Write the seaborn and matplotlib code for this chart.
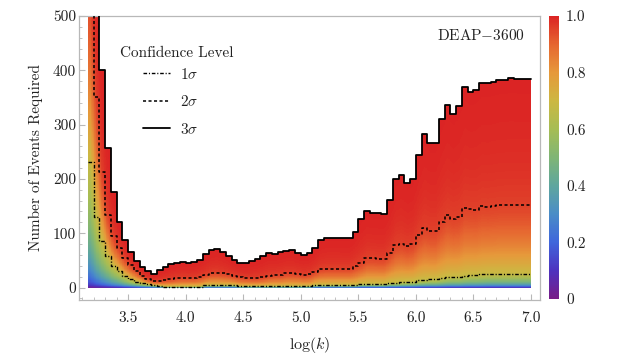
import math
import numpy as np
import pandas as pd
import matplotlib
matplotlib.use("Agg")
import matplotlib.pyplot as plt
import seaborn as sns
from matplotlib.colors import LinearSegmentedColormap
from matplotlib.ticker import MultipleLocator

# ---------------- data ----------------
# histogram bins in log(k): 77 bins of width 0.05 from 3.15 to 7.00
log_k_edges = np.round(np.linspace(3.15, 7.00, 78), 3)

n_3sigma = [700, 620, 400, 257, 175, 121, 88, 66, 48, 37, 30, 24, 32, 37, 43, 46,
            47, 46, 47, 51, 61, 69, 71, 66, 58, 51, 45, 45, 48, 52, 58, 63,
            62, 65, 68, 69, 63, 60, 63, 73, 87, 92, 92, 92, 91, 91, 103, 127,
            141, 137, 137, 136, 162, 199, 207, 193, 200, 244, 283, 267, 267, 310,
            337, 320, 335, 369, 360, 364, 377, 376, 379, 382, 383, 385, 384, 384, 384]

n_2sigma = [560, 351, 213, 134, 94, 72, 54, 41, 31, 22, 16, 12, 12, 14, 15, 17,
            18, 18, 18, 20, 23, 27, 27, 26, 24, 21, 19, 18, 17, 17, 19, 22,
            23, 23, 26, 26, 25, 23, 24, 29, 34, 35, 35, 35, 35, 35, 40, 45,
            54, 54, 53, 53, 63, 78, 81, 76, 80, 97, 109, 104, 104, 121,
            134, 127, 130, 146, 144, 143, 150, 149, 150, 152, 152, 152, 152, 152, 152]

n_1sigma = [232, 130, 85, 58, 40, 30, 21, 15, 11, 8, 6, 4, 3,
            1.5, 1.5, 1.5, 1.5, 1.5, 1.5, 1.5,
            4, 4, 4, 4, 4, 4,
            2, 2, 2, 2, 2, 2, 2, 2, 2, 2, 2, 2, 2,
            4.5, 4.5, 4.5, 4.5, 4.5, 4.5, 4.5, 4.5,
            7, 7, 7, 7, 7,
            9, 9, 10, 11, 11, 13, 14, 15, 15, 17, 19, 20, 20, 22, 23, 23, 24,
            25, 25, 25, 25, 25, 25, 25, 25]

level_names = [r"$1\sigma$", r"$2\sigma$", r"$3\sigma$"]

x_ticks = [3.5, 4.0, 4.5, 5.0, 5.5, 6.0, 6.5, 7.0]
y_ticks = [0, 100, 200, 300, 400, 500]
cbar_ticks = [0, 0.2, 0.4, 0.6, 0.8, 1.0]
cbar_labels = ["0", "0.2", "0.4", "0.6", "0.8", "1.0"]

# ---------------- style ----------------
sns.set_theme(style="white")
plt.rcParams["font.family"] = ["cmr10", "DejaVu Serif"]
plt.rcParams["mathtext.fontset"] = "cm"
plt.rcParams["axes.unicode_minus"] = False
plt.rcParams["axes.formatter.use_mathtext"] = True

FS = 11
TXT = "#222222"
FRAME = "#b8b8b8"

rainbow = LinearSegmentedColormap.from_list("mma_rainbow", [
    (0.00, (0.47, 0.11, 0.53)),
    (0.10, (0.30, 0.20, 0.75)),
    (0.20, (0.25, 0.40, 0.86)),
    (0.30, (0.29, 0.55, 0.78)),
    (0.40, (0.37, 0.65, 0.62)),
    (0.50, (0.50, 0.71, 0.46)),
    (0.60, (0.65, 0.74, 0.33)),
    (0.70, (0.80, 0.72, 0.26)),
    (0.80, (0.90, 0.60, 0.23)),
    (0.90, (0.90, 0.40, 0.19)),
    (1.00, (0.86, 0.14, 0.14)),
])

fig = plt.figure(figsize=(6.23, 3.56), dpi=100)
ax = fig.add_axes([79 / 623, 1 - 300 / 356, 461 / 623, 284 / 356])
cax = fig.add_axes([549 / 623, 1 - 299 / 356, 10 / 623, 283 / 356])

# ---------------- colour field (confidence level between the read contours) ----------------
edges = log_k_edges
centers = (edges[:-1] + edges[1:]) / 2
sub = 8
xf_edges = np.linspace(edges[0], edges[-1], (len(edges) - 1) * sub + 1)
xf_c = (xf_edges[:-1] + xf_edges[1:]) / 2
bin_idx = np.clip(((xf_c - edges[0]) / 0.05).astype(int), 0, len(centers) - 1)


def interp_log(v):
    return np.exp(np.interp(xf_c, centers, np.log(np.asarray(v, float))))


N1 = interp_log(n_1sigma)[None, :]
N2 = interp_log(n_2sigma)[None, :]
N3 = interp_log(n_3sigma)[None, :]
ny_edges = np.arange(0, 501, 1.0)
Ng = ((ny_edges[:-1] + ny_edges[1:]) / 2)[:, None]
sig = np.where(Ng <= N1, np.sqrt(Ng / N1),
               np.where(Ng <= N2, 1 + (Ng - N1) / (N2 - N1),
                        2 + (Ng - N2) / (N3 - N2)))
sig = np.clip(sig, 0, 4)
erf = np.vectorize(math.erf)
p = erf(sig / math.sqrt(2))
mask = Ng > np.asarray(n_3sigma, float)[bin_idx][None, :]
field = np.ma.masked_array(p, mask)

mesh = ax.pcolormesh(xf_edges, ny_edges, field, cmap=rainbow, vmin=0, vmax=1,
                     shading="flat", rasterized=True, zorder=1)

# ---------------- step contours ----------------
styles = [
    dict(ls=(0, (2.6, 1.3, 0.8, 1.3)), lw=1.0),
    dict(ls=(0, (2.0, 1.6)), lw=1.1),
    dict(ls="-", lw=1.3),
]
for name, vals, st in zip(level_names, [n_1sigma, n_2sigma, n_3sigma], styles):
    df = pd.DataFrame({"log_k": edges, "N": list(vals) + [vals[-1]]})
    sns.lineplot(data=df, x="log_k", y="N", drawstyle="steps-post", color="black",
                 linestyle=st["ls"], linewidth=st["lw"], label=name, ax=ax,
                 zorder=3, sort=False)

# ---------------- axes ----------------
ax.set_xlim(3.074, 7.078)
ax.set_ylim(-23, 500)
ax.set_xticks(x_ticks)
ax.set_xticklabels([f"{t:.1f}" for t in x_ticks])
ax.set_yticks(y_ticks)
ax.set_yticklabels([str(t) for t in y_ticks])
ax.xaxis.set_minor_locator(MultipleLocator(0.1))
ax.yaxis.set_minor_locator(MultipleLocator(20))
ax.tick_params(axis="both", which="both", direction="in", color=FRAME,
               labelcolor=TXT, labelsize=FS, bottom=True, left=True, top=False, right=False)
ax.tick_params(axis="both", which="major", length=4, width=0.8)
ax.tick_params(axis="both", which="minor", length=2.2, width=0.6)
ax.tick_params(axis="x", which="major", pad=8)
ax.tick_params(axis="y", which="major", pad=2)
for s in ax.spines.values():
    s.set_color(FRAME)
    s.set_linewidth(0.9)
ax.set_xlabel(r"$\log(k)$", fontsize=FS + 0.5, color=TXT, labelpad=7)
ax.set_ylabel("Number of Events Required", fontsize=FS, color=TXT, labelpad=7)

ax.text(0.967, 0.933, "DEAP$-$3600", transform=ax.transAxes, ha="right", va="center",
        fontsize=FS, color=TXT)
ax.text(0.089, 0.868, "Confidence Level", transform=ax.transAxes, ha="left", va="center",
        fontsize=FS, color=TXT)
handles, labels = ax.get_legend_handles_labels()
leg = ax.legend(handles, labels, loc="upper left", bbox_to_anchor=(0.1388, 0.822),
                frameon=False, borderpad=0, borderaxespad=0, handlelength=1.8,
                handletextpad=0.6, labelspacing=0.82, fontsize=FS)
for t in leg.get_texts():
    t.set_color(TXT)

# ---------------- colour bar ----------------
cb = fig.colorbar(mesh, cax=cax, ticks=cbar_ticks)
cb.set_ticklabels(cbar_labels)
cb.outline.set_visible(False)
cax.tick_params(length=0, pad=5, labelsize=FS, labelcolor=TXT)

fig.savefig("out.png", dpi=100)
